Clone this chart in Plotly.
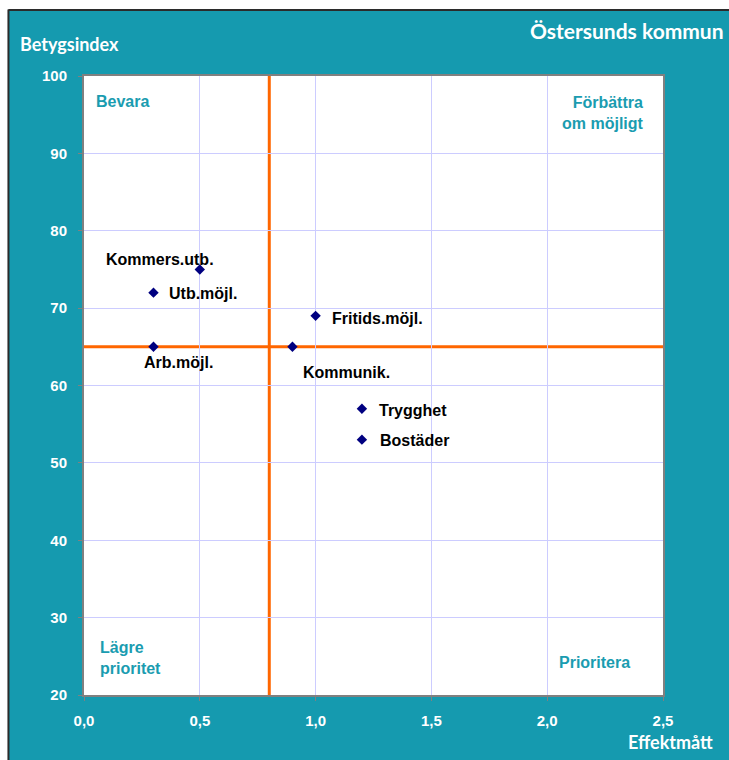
import plotly.graph_objects as go

# Effect measure (x) vs. rating index (y) for each area
areas = ["Kommers.utb.", "Utb.möjl.", "Arb.möjl.", "Fritids.möjl.", "Kommunik.", "Trygghet", "Bostäder"]
effekt = [0.5, 0.3, 0.3, 1.0, 0.9, 1.2, 1.2]
betyg = [75, 72, 65, 69, 65, 57, 53]

# Reference lines splitting the quadrants
x_split = 0.8
y_split = 65

x_ticks = [0.0, 0.5, 1.0, 1.5, 2.0, 2.5]
y_ticks = [20, 30, 40, 50, 60, 70, 80, 90, 100]

TEAL = "#159AAF"
LABEL_TEAL = "#1A9CB0"
ORANGE = "#FF6600"
NAVY = "#000080"
ARIAL = "Liberation Sans, Arial"

fig = go.Figure()

fig.add_trace(go.Scatter(
    x=effekt, y=betyg, mode="markers",
    marker=dict(symbol="diamond", size=8, color=NAVY),
    hoverinfo="text", text=areas, showlegend=False,
))

# Label offsets (pixels) for each point label
offsets = {
    "Kommers.utb.": (-40, 10, "center"),
    "Utb.möjl.": (14, -1, "left"),
    "Arb.möjl.": (25, -16, "center"),
    "Fritids.möjl.": (14, -3, "left"),
    "Kommunik.": (9, -26, "left"),
    "Trygghet": (15, -2, "left"),
    "Bostäder": (16, -1, "left"),
}
annotations = []
for name, xv, yv in zip(areas, effekt, betyg):
    dx, dy, anchor = offsets[name]
    annotations.append(dict(
        x=xv, y=yv, xref="x", yref="y", text=name, showarrow=False,
        xanchor=anchor, yanchor="middle", xshift=dx, yshift=dy,
        font=dict(family=ARIAL, size=16, color="black", weight="bold"),
    ))

quad_font = dict(family=ARIAL, size=16, color=LABEL_TEAL, weight="bold")
annotations += [
    dict(x=0.018, y=0.958, xref="paper", yref="paper", text="Bevara", showarrow=False,
         xanchor="left", yanchor="middle", font=quad_font),
    dict(x=0.97, y=0.94, xref="paper", yref="paper", text="Förbättra<br>om möjligt",
         showarrow=False, xanchor="right", yanchor="middle", align="right", font=quad_font),
    dict(x=0.024, y=0.059, xref="paper", yref="paper", text="Lägre<br>prioritet",
         showarrow=False, xanchor="left", yanchor="middle", align="left", font=quad_font),
    dict(x=0.946, y=0.052, xref="paper", yref="paper", text="Prioritera", showarrow=False,
         xanchor="right", yanchor="middle", font=quad_font),
]

title_font = dict(family="Lato, Open Sans", color="white", weight="bold")
annotations += [
    dict(x=-0.114, y=1.052, xref="paper", yref="paper", text="Betygsindex", showarrow=False,
         xanchor="left", yanchor="middle", font=dict(**title_font, size=18)),
    dict(x=1.1085, y=1.0727, xref="paper", yref="paper", text="Östersunds kommun", showarrow=False,
         xanchor="right", yanchor="middle", font=dict(**title_font, size=21)),
    dict(x=1.09, y=-0.076, xref="paper", yref="paper", text="Effektmått", showarrow=False,
         xanchor="right", yanchor="middle", font=dict(**title_font, size=18)),
]

shapes = [
    # white strips outside the teal frame, with its dark edge
    dict(type="rect", xref="paper", yref="paper", x0=-0.2, x1=-0.131, y0=-0.2, y1=1.3,
         fillcolor="white", line=dict(width=0), layer="above"),
    dict(type="rect", xref="paper", yref="paper", x0=-0.2, x1=1.2, y0=1.107, y1=1.3,
         fillcolor="white", line=dict(width=0), layer="above"),
    dict(type="line", xref="paper", yref="paper", x0=-0.1305, x1=-0.1305, y0=-0.2, y1=1.1075,
         line=dict(color="#2B2B2B", width=2), layer="above"),
    dict(type="line", xref="paper", yref="paper", x0=-0.1305, x1=1.2, y0=1.1065, y1=1.1065,
         line=dict(color="#2B2B2B", width=2), layer="above"),
    # quadrant split lines
    dict(type="line", xref="x", yref="paper", x0=x_split, x1=x_split, y0=0, y1=1,
         line=dict(color=ORANGE, width=3), layer="below"),
    dict(type="line", xref="paper", yref="y", x0=0, x1=1, y0=y_split, y1=y_split,
         line=dict(color=ORANGE, width=3), layer="below"),
]

tick_font = dict(family=ARIAL, size=15, color="white", weight="bold")

fig.update_layout(
    width=729, height=760,
    margin=dict(l=84, r=66, t=76, b=65),
    paper_bgcolor=TEAL, plot_bgcolor="white",
    separators=", ",
    xaxis=dict(
        range=[0, 2.5], tickvals=x_ticks, tickformat=".1f",
        showgrid=True, gridcolor="#CCCCFF", gridwidth=1, zeroline=False,
        showline=True, linecolor="#808080", linewidth=2, mirror=True,
        ticks="outside", ticklen=4, tickcolor="#808080",
        tickfont=tick_font, ticklabelstandoff=7,
    ),
    yaxis=dict(
        range=[20, 100], tickvals=y_ticks,
        showgrid=True, gridcolor="#CCCCFF", gridwidth=1, zeroline=False,
        showline=True, linecolor="#808080", linewidth=2, mirror=True,
        ticks="outside", ticklen=4, tickcolor="#808080",
        tickfont=tick_font, ticklabelstandoff=8,
    ),
    annotations=annotations,
    shapes=shapes,
)

fig.write_html("out.html")
